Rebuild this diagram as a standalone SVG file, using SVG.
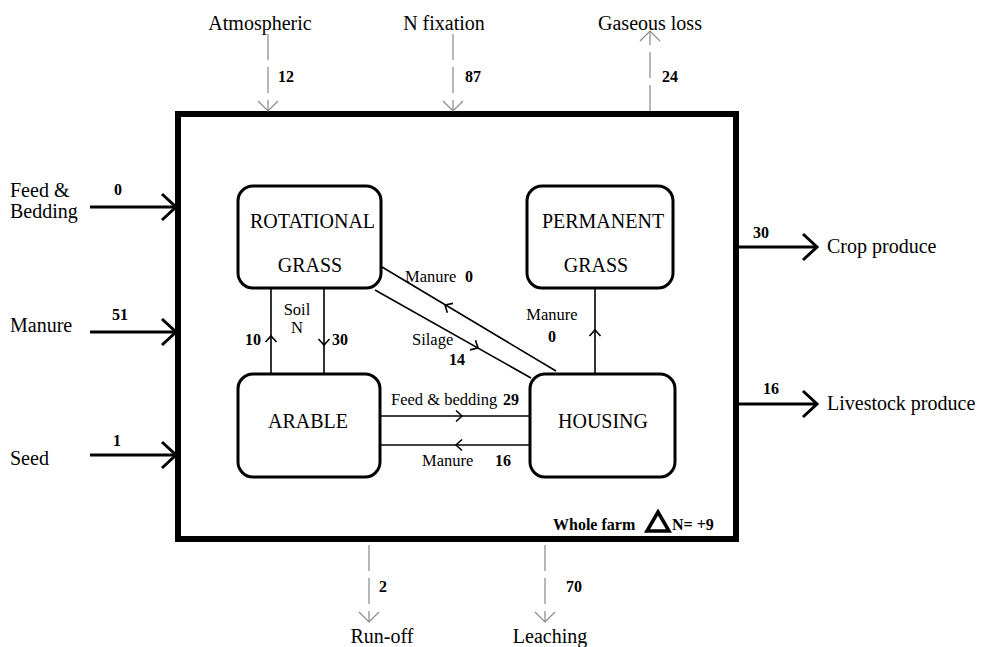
<svg xmlns="http://www.w3.org/2000/svg" width="982" height="647" viewBox="0 0 982 647" font-family="'Liberation Serif', 'Times New Roman', 'DejaVu Serif', serif">
<style>
text{font-family:'Liberation Serif','Times New Roman','DejaVu Serif',serif;fill:#000}
.lbl{font-size:20px}
.nd{font-size:20px}
.sm{font-size:16.5px}
.num{font-size:16px;font-weight:bold}
.box{fill:none;stroke:#000;stroke-width:3}
.dash{stroke:#888;stroke-width:1.2;fill:none;stroke-dasharray:26 7}
.solid{stroke:#000;stroke-width:3;fill:none}
.thin{stroke:#000;stroke-width:1.6;fill:none}
.ah{stroke:#000;stroke-width:1.6;fill:none}
</style>
<defs>
<marker id="big" markerUnits="userSpaceOnUse" markerWidth="32" markerHeight="32" refX="16" refY="16" orient="auto" overflow="visible">
<path d="M2,3 L16,16 L2,29" fill="none" stroke="#000" stroke-width="3"/>
</marker>
<marker id="gray" markerUnits="userSpaceOnUse" markerWidth="24" markerHeight="24" refX="12" refY="12" orient="auto" overflow="visible">
<path d="M2,2 L12,12 L2,22" fill="none" stroke="#888" stroke-width="1.2" stroke-dasharray="none"/>
</marker>
<path id="ah" d="M-6,-5.5 L0,0 L-6,5.5"/>
</defs>

<rect id="farm" x="178" y="114" width="558" height="425" fill="none" stroke="#000" stroke-width="6"/>

<g id="rotational-grass">
<rect class="box" x="238" y="186" width="143" height="102" rx="15"/>
<text class="nd" x="250" y="228">ROTATIONAL</text>
<text class="nd" x="310" y="272" text-anchor="middle">GRASS</text>
</g>
<g id="permanent-grass">
<rect class="box" x="527" y="186" width="146" height="102" rx="15"/>
<text class="nd" x="603" y="228" text-anchor="middle">PERMANENT</text>
<text class="nd" x="596" y="272" text-anchor="middle">GRASS</text>
</g>
<g id="arable">
<rect class="box" x="238" y="374" width="142" height="103" rx="15"/>
<text class="nd" x="308" y="428" text-anchor="middle">ARABLE</text>
</g>
<g id="housing">
<rect class="box" x="530" y="374" width="145" height="103" rx="15"/>
<text class="nd" x="603" y="428" text-anchor="middle">HOUSING</text>
</g>

<g id="connectors">
<line class="solid" x1="90" y1="207" x2="176" y2="207" marker-end="url(#big)"/>
<line class="solid" x1="90" y1="332" x2="176" y2="332" marker-end="url(#big)"/>
<line class="solid" x1="90" y1="455" x2="176" y2="455" marker-end="url(#big)"/>
<line class="solid" x1="738" y1="247" x2="817" y2="247" marker-end="url(#big)"/>
<line class="solid" x1="738" y1="404" x2="817" y2="404" marker-end="url(#big)"/>
<line class="dash" x1="268" y1="34" x2="268" y2="111" marker-end="url(#gray)"/>
<line class="dash" x1="453" y1="34" x2="453" y2="111" marker-end="url(#gray)"/>
<line class="dash" x1="650" y1="111" x2="650" y2="31" marker-end="url(#gray)"/>
<line class="dash" x1="369" y1="545" x2="369" y2="622" marker-end="url(#gray)"/>
<line class="dash" x1="545" y1="545" x2="545" y2="622" marker-end="url(#gray)"/>
<line class="thin" x1="271" y1="289" x2="271" y2="373"/>
<line class="thin" x1="324" y1="289" x2="324" y2="373"/>
<use href="#ah" class="ah" transform="translate(271,336) rotate(-90)"/>
<use href="#ah" class="ah" transform="translate(324,345) rotate(90)"/>
<line class="thin" x1="382" y1="267" x2="556" y2="371"/>
<line class="thin" x1="375" y1="290" x2="531" y2="378"/>
<use href="#ah" class="ah" transform="translate(445,305) rotate(210.8)"/>
<use href="#ah" class="ah" transform="translate(478,348) rotate(29.4)"/>
<line class="thin" x1="595" y1="288" x2="595" y2="373"/>
<use href="#ah" class="ah" transform="translate(595,330) rotate(-90)"/>
<line class="thin" x1="381" y1="416" x2="530" y2="416"/>
<line class="thin" x1="381" y1="445" x2="530" y2="445"/>
<use href="#ah" class="ah" transform="translate(462,416)"/>
<use href="#ah" class="ah" transform="translate(456,445) rotate(180)"/>
</g>

<g id="labels">
<text class="lbl" x="260" y="30" text-anchor="middle">Atmospheric</text>
<text class="lbl" x="444" y="30" text-anchor="middle">N fixation</text>
<text class="lbl" x="650" y="30" text-anchor="middle">Gaseous loss</text>
<text class="num" x="278" y="82">12</text>
<text class="num" x="465" y="82">87</text>
<text class="num" x="662" y="82">24</text>

<text class="lbl" x="10" y="197">Feed &amp;</text>
<text class="lbl" x="10" y="218">Bedding</text>
<text class="lbl" x="10" y="332">Manure</text>
<text class="lbl" x="10" y="465">Seed</text>
<text class="num" x="118" y="195" text-anchor="middle">0</text>
<text class="num" x="120" y="320" text-anchor="middle">51</text>
<text class="num" x="117" y="446" text-anchor="middle">1</text>

<text class="num" x="753" y="238">30</text>
<text class="lbl" x="827" y="253">Crop produce</text>
<text class="num" x="763" y="394">16</text>
<text class="lbl" x="827" y="410">Livestock produce</text>

<text class="num" x="379" y="592">2</text>
<text class="num" x="566" y="592">70</text>
<text class="lbl" x="382" y="643" text-anchor="middle">Run-off</text>
<text class="lbl" x="550" y="643" text-anchor="middle">Leaching</text>

<text class="sm" x="297" y="315" text-anchor="middle">Soil</text>
<text class="sm" x="297" y="333" text-anchor="middle">N</text>
<text class="num" x="245" y="345">10</text>
<text class="num" x="332" y="345">30</text>
<text class="sm" x="405" y="282">Manure</text>
<text class="num" x="465" y="282">0</text>
<text class="sm" x="412" y="345">Silage</text>
<text class="num" x="457" y="365" text-anchor="middle">14</text>
<text class="sm" x="552" y="320" text-anchor="middle">Manure</text>
<text class="num" x="552" y="342" text-anchor="middle">0</text>
<text class="sm" x="391" y="405">Feed &amp; bedding</text>
<text class="num" x="503" y="405">29</text>
<text class="sm" x="422" y="466">Manure</text>
<text class="num" x="495" y="466">16</text>

<text class="num" x="553" y="530">Whole farm</text>
<polygon points="647,531 658,512 669,531" fill="none" stroke="#000" stroke-width="3.5" stroke-linejoin="miter"/>
<text class="num" x="672" y="530">N= +9</text>
</g>
</svg>
